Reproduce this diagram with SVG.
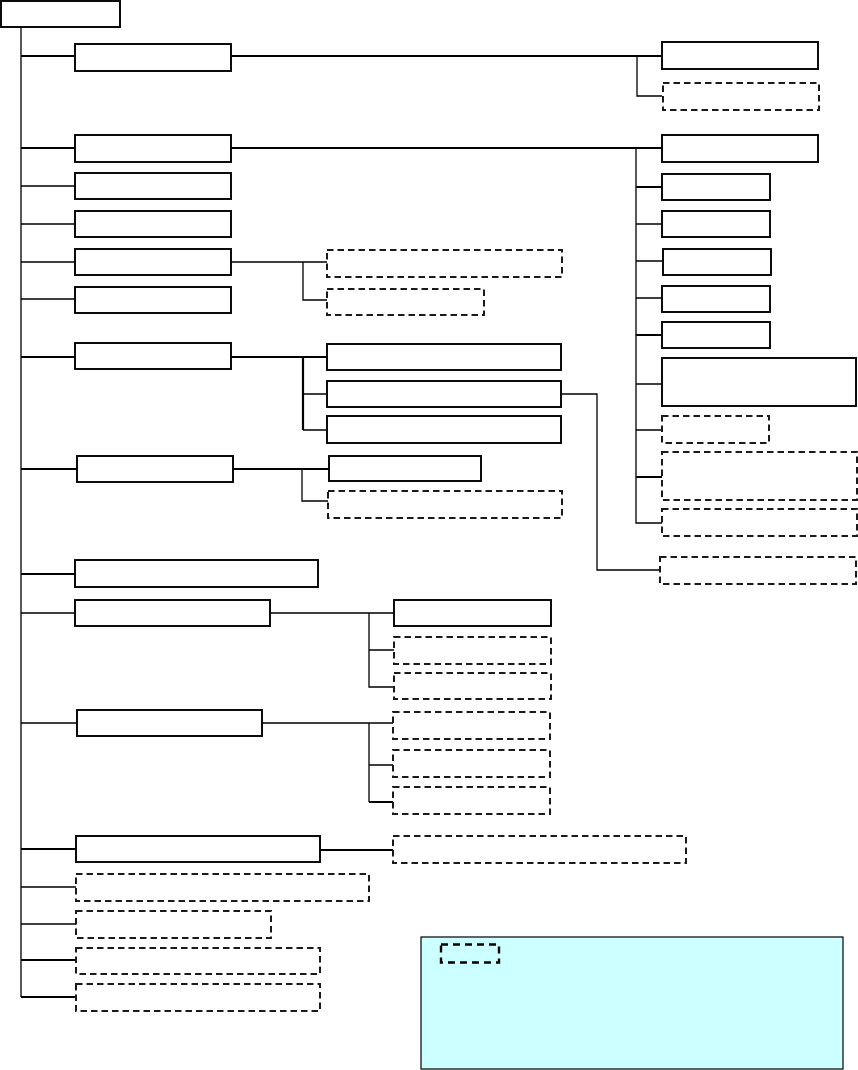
<svg xmlns="http://www.w3.org/2000/svg" width="858" height="1070" viewBox="0 0 858 1070">
<style>
.s{fill:#fff;stroke:#000;stroke-width:1.9}
.d{fill:#fff;stroke:#1a1a1a;stroke-width:2;stroke-dasharray:6.5 4}
.c{fill:none;stroke:#000;stroke-width:1.3}
.t{stroke-width:2.2}
.lg{fill:#CCFFFF;stroke:#000;stroke-width:1.2}
.ld{fill:none;stroke:#000;stroke-width:2.4;stroke-dasharray:7 5}
</style>
<rect x="0" y="0" width="858" height="1070" fill="#fff"/>
<g id="connectors">
<path class="c" d="M21,27V997"/>
<path class="c t" d="M21,56H75M21,148H75M21,357H75M21,469H77M21,574H75M21,849H76M21,960H76M21,997H76"/>
<path class="c" d="M21,186H75M21,224H75M21,262H75M21,299H75M21,613H75M21,723H76M21,887H76M21,924H76"/>
<path class="c t" d="M231,56H662M231,148H662"/>
<path class="c" d="M637,56V96H662"/>
<path class="c" d="M636,148V523H662M636,224H662M636,261H663M636,298H662M636,384H662M636,430H662"/>
<path class="c t" d="M636,187H662M636,335H662M636,477H662"/>
<path class="c" d="M231,262H327M303,262V300H327"/>
<path class="c t" d="M231,357H327M303,357V430"/>
<path class="c" d="M303,394H327M303,430H327"/>
<path class="c" d="M561,394H597V570H660"/>
<path class="c t" d="M233,469H329"/>
<path class="c" d="M302,469V501H328"/>
<path class="c" d="M270,613H394M369,613V687H394M369,650H394"/>
<path class="c" d="M262,723H393M369,723V802M369,765H393"/>
<path class="c t" d="M369,802H393M320,850H393"/>
</g>
<g id="root"><rect class="s" x="1" y="1" width="119" height="26"/></g>
<g id="n1"><rect class="s" x="75" y="44" width="156" height="27"/></g>
<g id="n1a"><rect class="s" x="662" y="42" width="156" height="27"/></g>
<g id="n1b"><rect class="d" x="663" y="83" width="156" height="27"/></g>
<g id="n2"><rect class="s" x="75" y="135" width="156" height="27"/></g>
<g id="n2a"><rect class="s" x="662" y="135" width="156" height="27"/></g>
<g id="n2b"><rect class="s" x="662" y="174" width="108" height="26"/></g>
<g id="n2c"><rect class="s" x="662" y="211" width="108" height="26"/></g>
<g id="n2d"><rect class="s" x="663" y="249" width="108" height="26"/></g>
<g id="n2e"><rect class="s" x="662" y="286" width="108" height="26"/></g>
<g id="n2f"><rect class="s" x="662" y="322" width="108" height="26"/></g>
<g id="n2g"><rect class="s" x="662" y="358" width="194" height="48"/></g>
<g id="n2h"><rect class="d" x="662" y="416" width="107" height="27"/></g>
<g id="n2i"><rect class="d" x="662" y="452" width="195" height="48"/></g>
<g id="n2j"><rect class="d" x="662" y="509" width="195" height="27"/></g>
<g id="n3"><rect class="s" x="75" y="173" width="156" height="26"/></g>
<g id="n4"><rect class="s" x="75" y="211" width="156" height="26"/></g>
<g id="n5"><rect class="s" x="75" y="249" width="156" height="26"/></g>
<g id="n5a"><rect class="d" x="327" y="250" width="235" height="27"/></g>
<g id="n5b"><rect class="d" x="327" y="289" width="157" height="26"/></g>
<g id="n6"><rect class="s" x="75" y="287" width="156" height="26"/></g>
<g id="n7"><rect class="s" x="75" y="343" width="156" height="26"/></g>
<g id="n7a"><rect class="s" x="327" y="344" width="234" height="26"/></g>
<g id="n7b"><rect class="s" x="327" y="381" width="234" height="26"/></g>
<g id="n7c"><rect class="s" x="327" y="416" width="234" height="27"/></g>
<g id="n7d"><rect class="d" x="660" y="557" width="196" height="27"/></g>
<g id="n8"><rect class="s" x="77" y="456" width="156" height="26"/></g>
<g id="n8a"><rect class="s" x="329" y="456" width="152" height="25"/></g>
<g id="n8b"><rect class="d" x="328" y="491" width="234" height="27"/></g>
<g id="n9"><rect class="s" x="75" y="560" width="243" height="27"/></g>
<g id="n10"><rect class="s" x="75" y="600" width="195" height="26"/></g>
<g id="n10a"><rect class="s" x="394" y="600" width="157" height="26"/></g>
<g id="n10b"><rect class="d" x="394" y="637" width="157" height="27"/></g>
<g id="n10c"><rect class="d" x="394" y="673" width="157" height="26"/></g>
<g id="n11"><rect class="s" x="77" y="710" width="185" height="26"/></g>
<g id="n11a"><rect class="d" x="393" y="712" width="157" height="27"/></g>
<g id="n11b"><rect class="d" x="393" y="750" width="157" height="27"/></g>
<g id="n11c"><rect class="d" x="393" y="787" width="157" height="27"/></g>
<g id="n12"><rect class="s" x="76" y="836" width="244" height="26"/></g>
<g id="n12a"><rect class="d" x="393" y="836" width="293" height="27"/></g>
<g id="n13"><rect class="d" x="76" y="874" width="293" height="27"/></g>
<g id="n14"><rect class="d" x="76" y="911" width="195" height="27"/></g>
<g id="n15"><rect class="d" x="76" y="948" width="244" height="26"/></g>
<g id="n16"><rect class="d" x="76" y="984" width="244" height="27"/></g>
<g id="legend">
<rect class="lg" x="421" y="937" width="422" height="132"/>
<rect class="ld" x="441" y="944.5" width="58" height="18"/>
</g>
</svg>
